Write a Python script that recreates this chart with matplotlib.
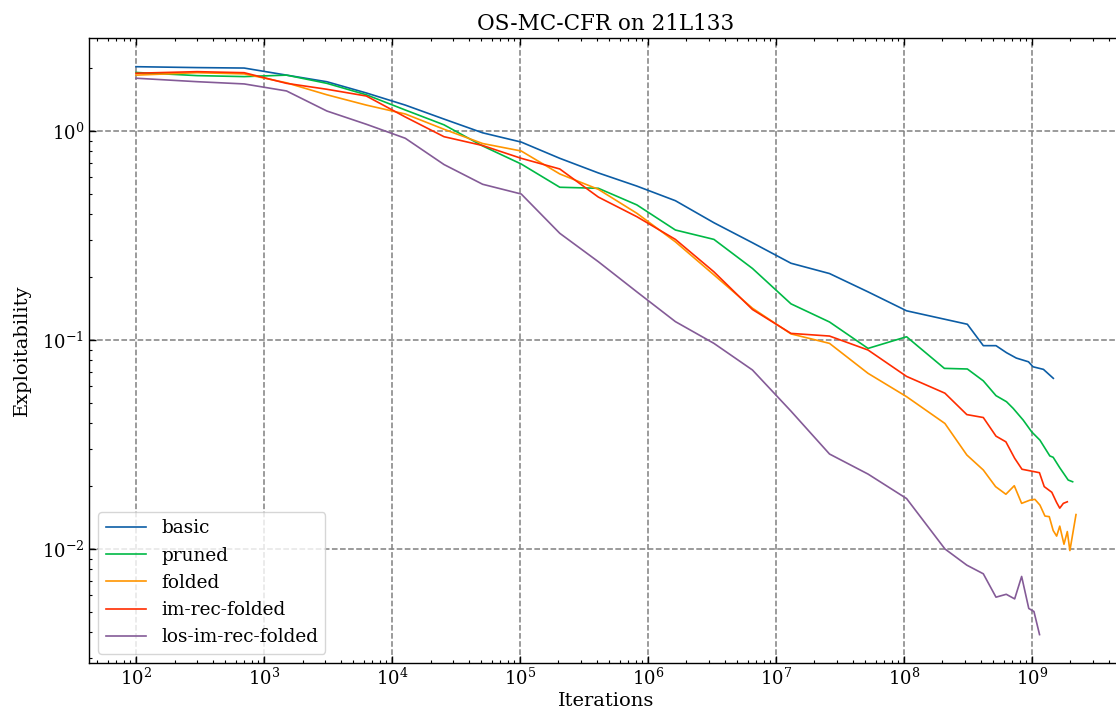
import matplotlib
matplotlib.use('Agg')
import matplotlib.pyplot as plt

# checkpoints (iterations)
iters_doubling = [100, 300, 700, 1500, 3100, 6300, 12700, 25500, 51100, 102300,
                  204700, 409500, 819100, 1638300, 3276700, 6553500, 13107100,
                  26214300, 52428700, 104857500]

basic_x = iters_doubling + [3.13e8, 4.17e8, 5.24e8, 6.33e8, 7.55e8, 9.4e8, 1.02e9, 1.23e9, 1.47e9]
basic_y = [2.03, 2.01, 2.00, 1.85, 1.72, 1.52, 1.33, 1.14, 0.98, 0.885,
           0.74, 0.63, 0.545, 0.464, 0.364, 0.292, 0.233, 0.208, 0.170, 0.138,
           0.119, 0.094, 0.094, 0.087, 0.082, 0.0787, 0.0745, 0.0724, 0.0656]

pruned_x = iters_doubling + [2.07e8, 3.13e8, 4.17e8, 5.24e8, 6.33e8, 7.14e8, 8.55e8, 9.95e8,
                             1.155e9, 1.38e9, 1.465e9, 1.65e9, 1.92e9, 2.08e9]
pruned_y = [1.905, 1.84, 1.82, 1.85, 1.69, 1.49, 1.26, 1.07, 0.848, 0.695,
            0.538, 0.532, 0.443, 0.336, 0.303, 0.220, 0.149, 0.122, 0.0912, 0.1037,
            0.0732, 0.0727, 0.0638, 0.0542, 0.0507, 0.0471, 0.0414, 0.0364,
            0.0332, 0.0279, 0.0275, 0.0245, 0.0214, 0.0210]

folded_x = iters_doubling + [2.09e8, 3.10e8, 4.17e8, 5.2e8, 6.26e8, 7.28e8, 8.31e8, 9.65e8,
                             1.055e9, 1.155e9, 1.264e9, 1.366e9, 1.466e9, 1.56e9, 1.65e9,
                             1.78e9, 1.89e9, 1.98e9, 2.21e9]
folded_y = [1.85, 1.90, 1.875, 1.70, 1.49, 1.33, 1.206, 1.019, 0.871, 0.802,
            0.623, 0.526, 0.404, 0.295, 0.205, 0.142, 0.107, 0.0964, 0.0693, 0.0536,
            0.0399, 0.0282, 0.0239, 0.0199, 0.0183, 0.0201, 0.01655, 0.01715,
            0.0173, 0.01624, 0.01439, 0.0143, 0.01227, 0.01154, 0.01288,
            0.01055, 0.01213, 0.00984, 0.01463]

imrec_x = iters_doubling + [2.09e8, 3.10e8, 4.17e8, 5.24e8, 6.26e8, 7.33e8, 8.36e8, 9.95e8,
                            1.145e9, 1.248e9, 1.43e9, 1.56e9, 1.65e9, 1.76e9, 1.89e9]
imrec_y = [1.889, 1.922, 1.90, 1.69, 1.583, 1.47, 1.167, 0.939, 0.852, 0.740,
           0.658, 0.483, 0.389, 0.303, 0.212, 0.140, 0.1076, 0.1045, 0.0896, 0.067,
           0.0557, 0.044, 0.0426, 0.0347, 0.0326, 0.0272, 0.0241, 0.0236,
           0.0232, 0.0199, 0.0187, 0.0167, 0.0157, 0.01655, 0.01684]

losimrec_x = iters_doubling + [2.09e8, 3.10e8, 4.17e8, 5.24e8, 6.3e8, 7.33e8, 8.31e8, 9.45e8,
                               1.037e9, 1.147e9]
losimrec_y = [1.788, 1.721, 1.679, 1.554, 1.246, 1.077, 0.923, 0.691, 0.556, 0.4995,
              0.324, 0.237, 0.170, 0.1225, 0.0964, 0.0719, 0.0457, 0.0285, 0.02285, 0.01745,
              0.01002, 0.00838, 0.00762, 0.00589, 0.00608, 0.00578, 0.0074, 0.0052,
              0.00503, 0.0039]

labels = ['basic', 'pruned', 'folded', 'im-rec-folded', 'los-im-rec-folded']
colors = ['#0C5DA5', '#00B945', '#FF9500', '#FF2C00', '#845B97']

plt.rcParams['font.family'] = 'serif'
plt.rcParams['font.serif'] = ['DejaVu Serif']
plt.rcParams['mathtext.fontset'] = 'dejavuserif'
plt.rcParams['font.size'] = 13

fig = plt.figure(figsize=(11.16, 7.10), dpi=100)
ax = fig.add_axes([89 / 1116, 47 / 710, (1123 - 89) / 1116, (663 - 38.3) / 710])

series = [(basic_x, basic_y), (pruned_x, pruned_y), (folded_x, folded_y),
          (imrec_x, imrec_y), (losimrec_x, losimrec_y)]
for (xs, ys), lab, c in zip(series, labels, colors):
    ax.plot(xs, ys, color=c, lw=1.2, label=lab)

ax.set_xscale('log')
ax.set_yscale('log')
ax.grid(True, which='major', ls='--', color='gray', lw=1.1)

ax.tick_params(which='both', direction='in', top=True, right=True, labelsize=13)
ax.tick_params(which='major', length=5, width=1)
ax.tick_params(which='minor', length=2.5, width=0.8)
for s in ax.spines.values():
    s.set_linewidth(1.0)

ax.set_title('OS-MC-CFR on 21L133', fontsize=15.5)
ax.set_xlabel('Iterations', fontsize=14, labelpad=2)
ax.set_ylabel('Exploitability', fontsize=14, labelpad=8)
ax.legend(loc='lower left', fontsize=13.3, handlelength=2.2)

fig.savefig('out.png', dpi=100)
